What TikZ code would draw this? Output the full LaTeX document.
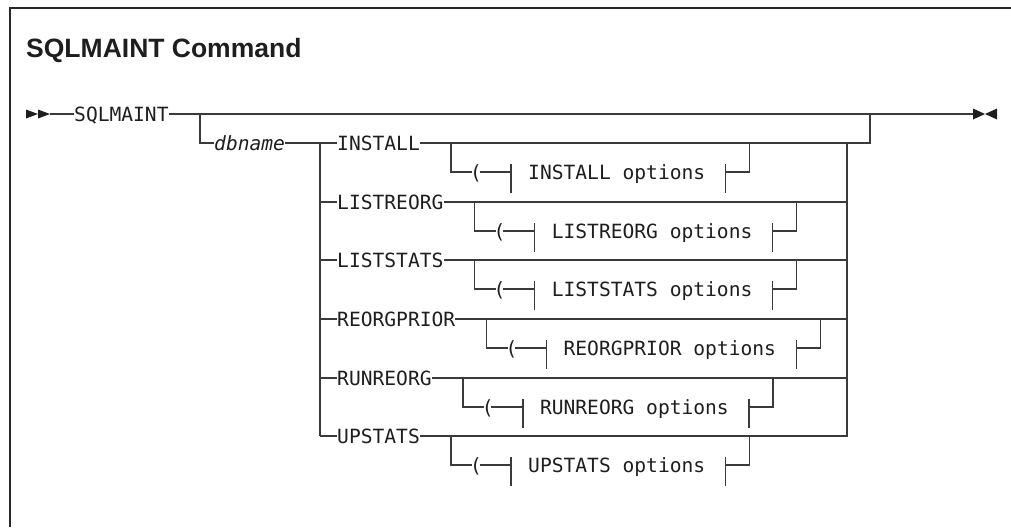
\documentclass[tikz,border=0pt]{standalone}
\usepackage{fontspec}
\newfontfamily\synfont{DejaVu Sans Mono}
\newfontfamily\headfont{Liberation Sans}
\usetikzlibrary{calc}

\definecolor{inkcol}{RGB}{30,30,30}
\definecolor{railcol}{RGB}{58,58,58}
\definecolor{framecol}{RGB}{40,40,40}

\tikzset{
  rail/.style={draw=railcol, line width=1.4pt},
  kw/.style={font=\synfont\fontsize{19.6}{22}\selectfont, text=inkcol,
             inner sep=0pt, text height=14.3pt, text depth=0pt, anchor=west},
  var/.style={kw, font=\synfont\itshape\fontsize{19.6}{22}\selectfont},
  paren/.style={kw, anchor=center, inner xsep=-2.5pt},
  tip/.style={fill=inkcol, draw=none}
}

\begin{document}
\begin{tikzpicture}[x=1pt, y=-1pt]
\useasboundingbox (0,0) rectangle (1011,527);

% frame edges
\draw[framecol, line width=2pt] (10,527) -- (10,8) -- (1011,8);

% heading
\node[anchor=base west, inner sep=0pt, text=inkcol,
      font=\headfont\bfseries\fontsize{26.5}{30}\selectfont] (title) at (26,58) {SQLMAINT Command};

% main rail with start and end marks
\coordinate (a0) at (50,114);
\coordinate (stop) at (973,114);
\fill[tip] (26,109.5) -- (38,114) -- (26,118.5) -- cycle;
\fill[tip] (38,109.5) -- (50,114) -- (38,118.5) -- cycle;
\fill[tip] (973,108.5) -- (985,114) -- (973,119.5) -- cycle;
\fill[tip] (997,108.5) -- (985,114) -- (997,119.5) -- cycle;

\node[kw] (cmd) at (74,114) {SQLMAINT};
\draw[rail] (a0) -- (cmd.west);
\draw[rail] (cmd.east) -- (stop);

% optional database name
\coordinate (b0) at (200,114);
\node[var] (db) at (214,143) {dbname};
\draw[rail] (b0) |- (db.west);

% one row per keyword, each with its optional options fragment
\foreach \i/\Y/\kw/\opt in {
  1/143/INSTALL/INSTALL options,
  2/202/LISTREORG/LISTREORG options,
  3/260/LISTSTATS/LISTSTATS options,
  4/319/REORGPRIOR/REORGPRIOR options,
  5/378/RUNREORG/RUNREORG options,
  6/436/UPSTATS/UPSTATS options} {
  \node[kw] (k\i) at (337,\Y) {\kw};
  \coordinate (l\i) at (320,\Y);
  \coordinate (r\i) at (847,\Y);
  \coordinate (s\i) at ($(k\i.east)+(31,0)$);
  \node[paren] (p\i) at ($(s\i)+(25,29)$) {(};
  \node[kw] (o\i) at ($(s\i)+(77,29)$) {\opt};
  \coordinate (t\i) at ($(o\i.west)+(-17,0)$);
  \coordinate (u\i) at ($(o\i.east)+(20,0)$);
  \coordinate (e\i) at ($(u\i)+(24,0)$);
  \draw[rail] (s\i) |- (p\i.west);
  \draw[rail] (p\i.east) -- (t\i);
  \draw[rail] ($(t\i)+(0,-8)$) -- ($(t\i)+(0,21)$);
  \draw[rail] ($(u\i)+(0,-8)$) -- ($(u\i)+(0,21)$);
  \draw[rail] (u\i) -- (e\i) -- (e\i |- k\i.east);
  \draw[rail] (l\i) -- (k\i.west);
}

% left and right collectors
\draw[rail] (db.east) -- (k1.west);
\draw[rail] (l1) -- (l6);
\coordinate (j1) at (870,143);
\draw[rail] (k1.east) -- (j1) -- (j1 |- stop);
\draw[rail] (r1) -- (r6) -- (k6.east);
\foreach \i in {2,3,4,5} { \draw[rail] (k\i.east) -- (r\i); }

\end{tikzpicture}
\end{document}
